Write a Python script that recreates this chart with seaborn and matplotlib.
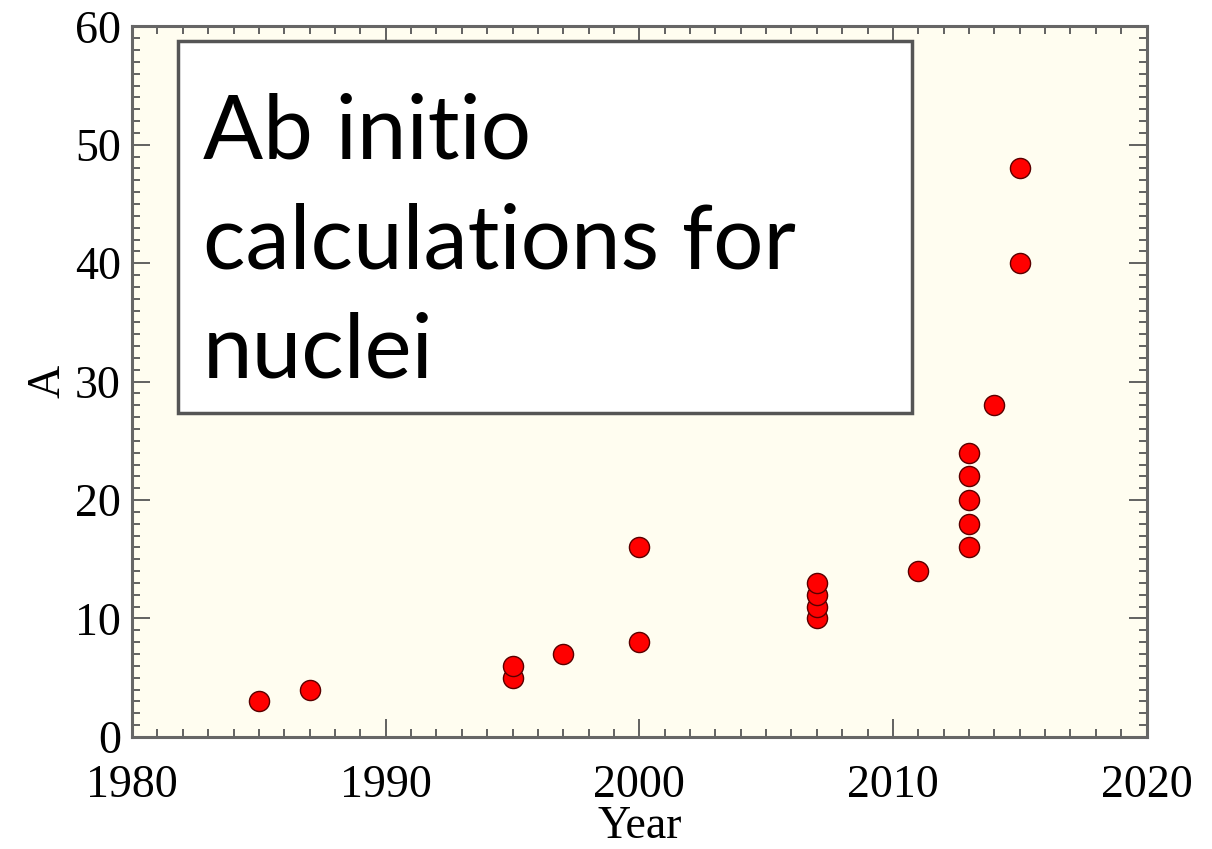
import matplotlib
matplotlib.use("Agg")
import matplotlib.pyplot as plt
import seaborn as sns
import pandas as pd
from matplotlib.patches import Rectangle
from matplotlib.ticker import MultipleLocator

years = [1985, 1987, 1995, 1995, 1997, 2000, 2000, 2007, 2007, 2007, 2007,
         2011, 2013, 2013, 2013, 2013, 2013, 2014, 2015, 2015]
mass = [3, 4, 5, 6, 7, 8, 16, 10, 11, 12, 13,
        14, 16, 18, 20, 22, 24, 28, 40, 48]
x_ticks = [1980, 1990, 2000, 2010, 2020]
y_ticks = [0, 10, 20, 30, 40, 50, 60]
box_text = "Ab initio\ncalculations for\nnuclei"

df = pd.DataFrame({"Year": years, "A": mass})

sns.set_style("ticks")
plt.rcParams["font.family"] = ["Liberation Serif", "DejaVu Serif"]
plt.rcParams["text.color"] = "black"
plt.rcParams["axes.labelcolor"] = "black"
plt.rcParams["xtick.labelcolor"] = "black"
plt.rcParams["ytick.labelcolor"] = "black"

fig = plt.figure(figsize=(12.12, 8.49), dpi=100)
ax = fig.add_axes([0.109, 0.132, 0.837, 0.837])
ax.set_facecolor("#FFFDF0")

sns.scatterplot(data=df, x="Year", y="A", ax=ax, s=210, color="#FF0000",
                edgecolor="#5a0000", linewidth=1.0, zorder=3)

ax.set_xlim(1980, 2020)
ax.set_ylim(0, 60)
ax.set_xticks(x_ticks)
ax.set_yticks(y_ticks)
ax.xaxis.set_minor_locator(MultipleLocator(1))
ax.yaxis.set_minor_locator(MultipleLocator(1))
ax.tick_params(which="both", direction="in", top=True, right=True,
               color="#555555", width=1.3)
ax.tick_params(axis="x", which="major", length=13, labelsize=33, pad=20)
ax.tick_params(axis="y", which="major", length=13, labelsize=33, pad=8)
ax.tick_params(which="minor", length=6)
for sp in ax.spines.values():
    sp.set_color("#666666")
    sp.set_linewidth(2.2)

ax.set_xlabel("Year", fontsize=33, labelpad=-1)
ax.set_ylabel("A", fontsize=33, labelpad=4)

ax.add_patch(Rectangle((0.045, 0.456), 0.724, 0.524, transform=ax.transAxes,
                       facecolor="white", edgecolor="#555555", linewidth=2.5,
                       zorder=4))
ax.text(0.070, 0.695, box_text, transform=ax.transAxes, fontsize=64,
        family=["Lato", "DejaVu Sans"], va="center", ha="left",
        linespacing=1.42, zorder=5, color="black")

fig.savefig("out.png", dpi=100)
